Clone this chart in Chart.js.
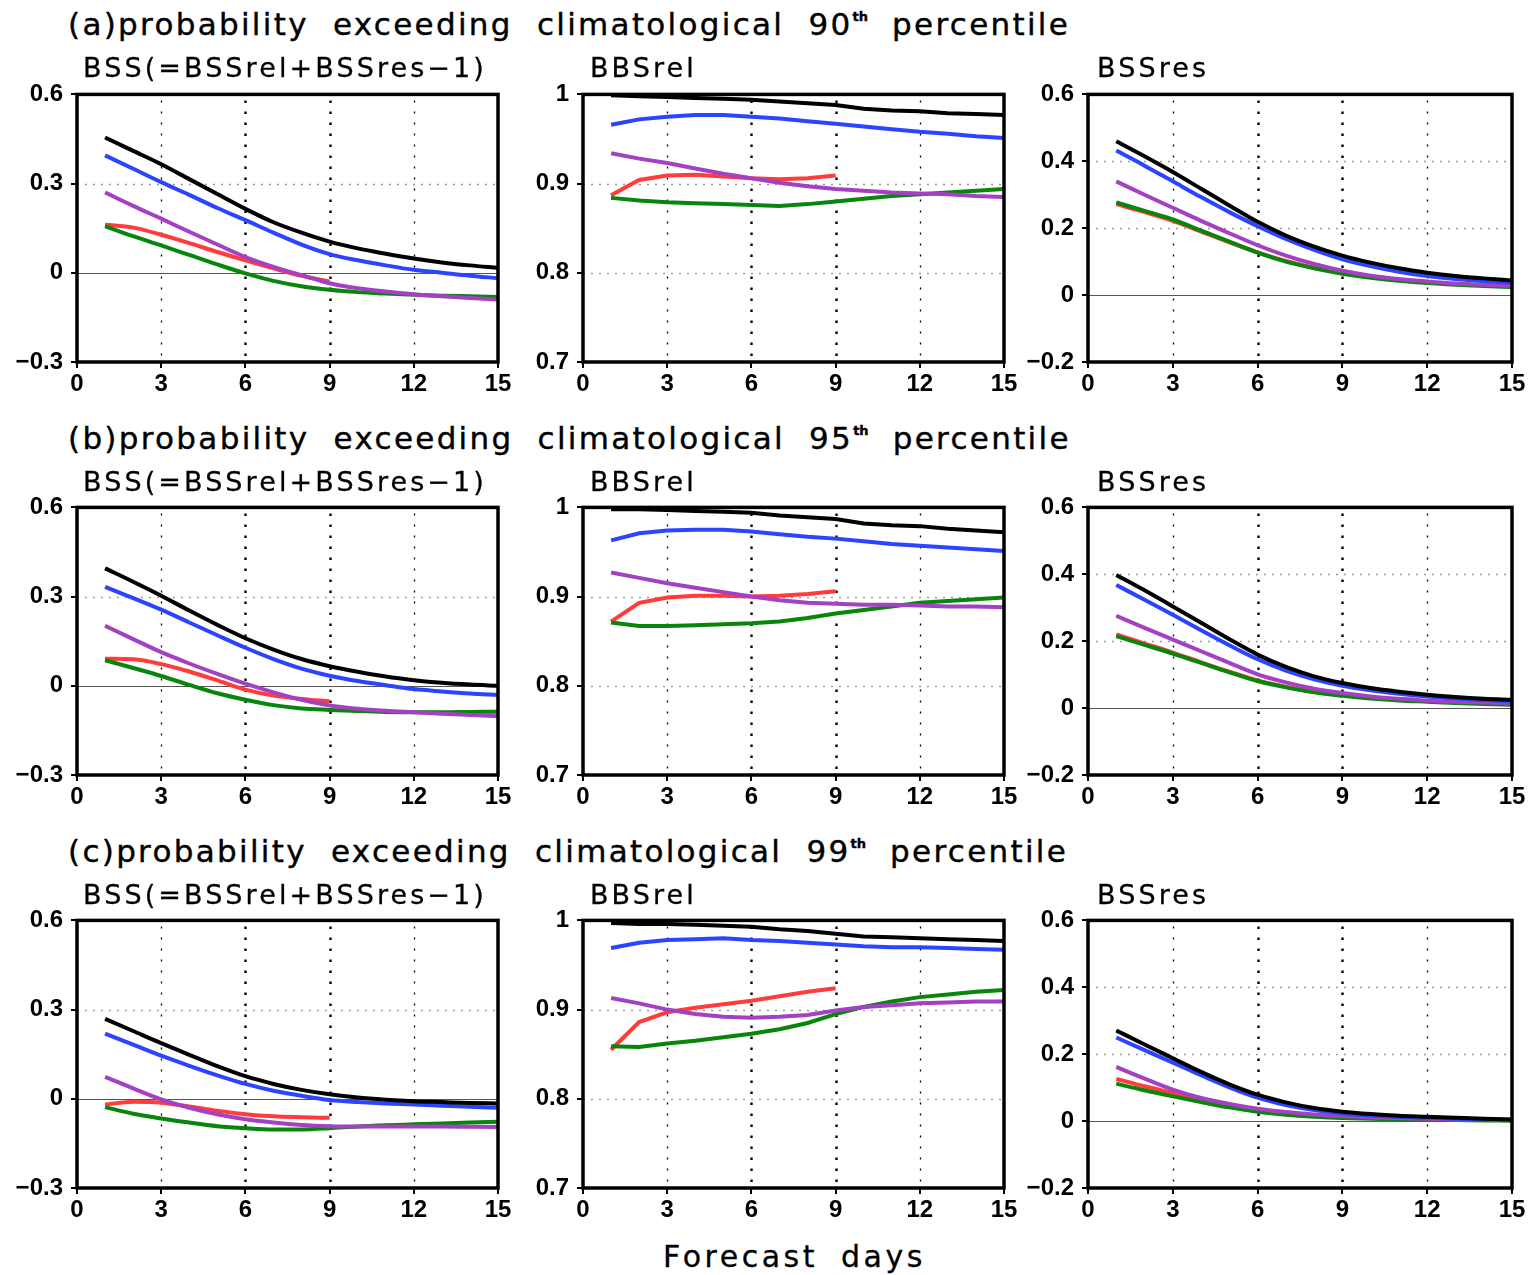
<!DOCTYPE html>
<html>
<head>
<meta charset="utf-8">
<script src="https://cdn.jsdelivr.net/npm/chart.js"></script>
<style>
  body { margin: 0; width: 1530px; height: 1275px; background: #fff; position: relative; overflow: hidden; }
  canvas { position: absolute; }
  .t { position: absolute; font-family: "DejaVu Sans", sans-serif; color: #000; white-space: nowrap; line-height: 1; }
  .title { font-size: 31px; letter-spacing: 2.3px; word-spacing: 12px; -webkit-text-stroke: 0.4px #000; }
  .title sup { font-size: 13px; font-weight: bold; vertical-align: 14px; letter-spacing: 0; }
  .sub { font-size: 27px; letter-spacing: 3.1px; -webkit-text-stroke: 0.3px #000; }
  .xlab { font-size: 30px; letter-spacing: 3.5px; word-spacing: 10px; -webkit-text-stroke: 0.3px #000; }
</style>
</head>
<body>
<script>
// forecast days
const days = [1, 2, 3, 4, 5, 6, 7, 8, 9, 10, 11, 12, 13, 14, 15];
const xTicks = [0, 3, 6, 9, 12, 15];
const yTicksBSS = [-0.3, 0, 0.3, 0.6];
const yTicksRel = [0.7, 0.8, 0.9, 1];
const yTicksRes = [-0.2, 0, 0.2, 0.4, 0.6];

const rowTitles = ['(a)probability exceeding climatological 90', '(b)probability exceeding climatological 95', '(c)probability exceeding climatological 99'];
const colTitles = ['BSS(=BSSrel+BSSres\u22121)', 'BBSrel', 'BSSres'];

// (a) 90th percentile
const bss90Black  = [0.455, 0.41, 0.365, 0.315, 0.265, 0.215, 0.17, 0.135, 0.105, 0.082, 0.064, 0.048, 0.035, 0.025, 0.017];
const bss90Blue   = [0.395, 0.35, 0.305, 0.262, 0.218, 0.177, 0.135, 0.095, 0.063, 0.042, 0.025, 0.01, 0.0, -0.01, -0.018];
const bss90Purple = [0.27, 0.225, 0.182, 0.138, 0.095, 0.053, 0.02, -0.008, -0.035, -0.052, -0.063, -0.072, -0.079, -0.085, -0.09];
const bss90Red    = [0.162, 0.152, 0.128, 0.1, 0.07, 0.042, 0.015, -0.01, -0.03];
const bss90Green  = [0.157, 0.123, 0.092, 0.06, 0.028, -0.002, -0.027, -0.045, -0.057, -0.065, -0.07, -0.074, -0.077, -0.079, -0.081];

const rel90Black  = [0.999, 0.998, 0.997, 0.996, 0.995, 0.994, 0.992, 0.990, 0.988, 0.984, 0.982, 0.981, 0.979, 0.978, 0.977];
const rel90Blue   = [0.966, 0.972, 0.975, 0.977, 0.977, 0.975, 0.973, 0.970, 0.967, 0.964, 0.961, 0.958, 0.956, 0.953, 0.951];
const rel90Purple = [0.934, 0.928, 0.923, 0.917, 0.911, 0.906, 0.901, 0.897, 0.894, 0.892, 0.890, 0.889, 0.888, 0.886, 0.885];
const rel90Red    = [0.887, 0.904, 0.909, 0.910, 0.908, 0.906, 0.905, 0.906, 0.909];
const rel90Green  = [0.884, 0.881, 0.879, 0.878, 0.877, 0.876, 0.875, 0.877, 0.880, 0.883, 0.886, 0.888, 0.890, 0.892, 0.894];

const res90Black  = [0.46, 0.415, 0.368, 0.318, 0.268, 0.219, 0.178, 0.145, 0.118, 0.097, 0.08, 0.067, 0.057, 0.05, 0.044];
const res90Blue   = [0.432, 0.387, 0.34, 0.293, 0.248, 0.206, 0.168, 0.135, 0.107, 0.087, 0.07, 0.057, 0.048, 0.042, 0.037];
const res90Purple = [0.34, 0.30, 0.261, 0.222, 0.185, 0.149, 0.118, 0.093, 0.073, 0.058, 0.048, 0.041, 0.035, 0.031, 0.028];
const res90Red    = [0.272, 0.248, 0.222, 0.19, 0.158, 0.128, 0.102, 0.082, 0.066];
const res90Green  = [0.277, 0.252, 0.226, 0.193, 0.16, 0.127, 0.1, 0.08, 0.064, 0.052, 0.043, 0.036, 0.031, 0.027, 0.024];

// (b) 95th percentile
const bss95Black  = [0.395, 0.35, 0.303, 0.253, 0.205, 0.16, 0.122, 0.09, 0.066, 0.047, 0.031, 0.019, 0.01, 0.004, 0.0];
const bss95Blue   = [0.333, 0.295, 0.256, 0.213, 0.17, 0.128, 0.09, 0.058, 0.034, 0.016, 0.002, -0.011, -0.019, -0.026, -0.031];
const bss95Purple = [0.202, 0.157, 0.113, 0.075, 0.04, 0.007, -0.022, -0.047, -0.066, -0.077, -0.084, -0.089, -0.094, -0.098, -0.102];
const bss95Red    = [0.091, 0.089, 0.073, 0.048, 0.018, -0.013, -0.033, -0.044, -0.052];
const bss95Green  = [0.086, 0.06, 0.033, 0.003, -0.025, -0.047, -0.065, -0.076, -0.081, -0.085, -0.088, -0.089, -0.089, -0.088, -0.087];

const rel95Black  = [0.998, 0.998, 0.997, 0.996, 0.995, 0.994, 0.991, 0.989, 0.987, 0.982, 0.980, 0.979, 0.976, 0.974, 0.972];
const rel95Blue   = [0.963, 0.971, 0.974, 0.975, 0.975, 0.973, 0.970, 0.967, 0.965, 0.962, 0.959, 0.957, 0.955, 0.953, 0.951];
const rel95Purple = [0.927, 0.921, 0.915, 0.91, 0.905, 0.90, 0.896, 0.893, 0.892, 0.891, 0.891, 0.890, 0.889, 0.889, 0.888];
const rel95Red    = [0.872, 0.893, 0.899, 0.901, 0.901, 0.900, 0.901, 0.903, 0.906];
const rel95Green  = [0.871, 0.867, 0.867, 0.868, 0.869, 0.870, 0.872, 0.876, 0.881, 0.885, 0.889, 0.893, 0.895, 0.897, 0.899];

const res95Black  = [0.398, 0.352, 0.304, 0.255, 0.206, 0.16, 0.123, 0.095, 0.075, 0.06, 0.049, 0.04, 0.033, 0.028, 0.025];
const res95Blue   = [0.368, 0.324, 0.279, 0.233, 0.188, 0.146, 0.112, 0.086, 0.067, 0.053, 0.043, 0.035, 0.029, 0.024, 0.02];
const res95Purple = [0.276, 0.24, 0.205, 0.17, 0.135, 0.101, 0.077, 0.058, 0.045, 0.035, 0.028, 0.022, 0.019, 0.017, 0.015];
const res95Red    = [0.22, 0.193, 0.166, 0.137, 0.109, 0.083, 0.064, 0.049, 0.038];
const res95Green  = [0.215, 0.189, 0.163, 0.135, 0.107, 0.081, 0.062, 0.047, 0.037, 0.029, 0.023, 0.019, 0.015, 0.012, 0.01];

// (c) 99th percentile
const bss99Black  = [0.269, 0.228, 0.187, 0.148, 0.11, 0.076, 0.05, 0.03, 0.015, 0.004, -0.003, -0.008, -0.011, -0.014, -0.016];
const bss99Blue   = [0.219, 0.182, 0.145, 0.111, 0.079, 0.05, 0.027, 0.01, -0.004, -0.011, -0.016, -0.019, -0.023, -0.027, -0.03];
const bss99Purple = [0.074, 0.035, -0.002, -0.03, -0.052, -0.069, -0.08, -0.088, -0.092, -0.093, -0.093, -0.093, -0.093, -0.094, -0.095];
const bss99Red    = [-0.019, -0.01, -0.013, -0.026, -0.04, -0.052, -0.059, -0.062, -0.064];
const bss99Green  = [-0.028, -0.05, -0.066, -0.08, -0.092, -0.099, -0.103, -0.103, -0.099, -0.093, -0.089, -0.086, -0.083, -0.08, -0.077];

const rel99Black  = [0.997, 0.996, 0.996, 0.995, 0.994, 0.993, 0.990, 0.988, 0.985, 0.982, 0.981, 0.980, 0.979, 0.978, 0.977];
const rel99Blue   = [0.969, 0.975, 0.978, 0.979, 0.980, 0.978, 0.977, 0.975, 0.973, 0.971, 0.970, 0.970, 0.969, 0.968, 0.967];
const rel99Purple = [0.913, 0.907, 0.900, 0.895, 0.892, 0.891, 0.892, 0.894, 0.899, 0.903, 0.905, 0.907, 0.908, 0.909, 0.909];
const rel99Red    = [0.855, 0.886, 0.897, 0.902, 0.906, 0.910, 0.915, 0.920, 0.924];
const rel99Green  = [0.859, 0.858, 0.862, 0.865, 0.869, 0.873, 0.878, 0.885, 0.895, 0.903, 0.909, 0.914, 0.917, 0.920, 0.922];

const res99Black  = [0.271, 0.229, 0.188, 0.147, 0.11, 0.079, 0.056, 0.039, 0.028, 0.021, 0.016, 0.013, 0.01, 0.007, 0.005];
const res99Blue   = [0.25, 0.212, 0.175, 0.137, 0.101, 0.07, 0.048, 0.033, 0.023, 0.017, 0.013, 0.01, 0.007, 0.005, 0.004];
const res99Purple = [0.162, 0.127, 0.094, 0.069, 0.051, 0.037, 0.027, 0.02, 0.015, 0.011, 0.009, 0.007, 0.005, 0.004, 0.003];
const res99Red    = [0.126, 0.104, 0.084, 0.065, 0.047, 0.033, 0.023, 0.016, 0.011];
const res99Green  = [0.112, 0.092, 0.074, 0.057, 0.041, 0.028, 0.019, 0.013, 0.009, 0.007, 0.005, 0.004, 0.003, 0.002, 0.001];

const COLORS = { black: '#000000', blue: '#2b44ff', purple: '#a440c4', red: '#ff3b3b', green: '#07860b' };

const panels = [
  [[bss90Black, bss90Blue, bss90Purple, bss90Green, bss90Red], [rel90Black, rel90Blue, rel90Purple, rel90Green, rel90Red], [res90Black, res90Blue, res90Purple, res90Green, res90Red]],
  [[bss95Black, bss95Blue, bss95Purple, bss95Green, bss95Red], [rel95Black, rel95Blue, rel95Purple, rel95Green, rel95Red], [res95Black, res95Blue, res95Purple, res95Green, res95Red]],
  [[bss99Black, bss99Blue, bss99Purple, bss99Green, bss99Red], [rel99Black, rel99Blue, rel99Purple, rel99Green, rel99Red], [res99Black, res99Blue, res99Purple, res99Green, res99Red]]
];
const seriesColors = [COLORS.black, COLORS.blue, COLORS.purple, COLORS.green, COLORS.red];
const colTicks = [yTicksBSS, yTicksRel, yTicksRes];
const colDots = [[0.3], [0.8, 0.9], [0.2, 0.4]];
const colZero = [true, false, true];

// layout of plot boxes (pixels)
const PL = [77, 583, 1088], PW = [421, 421, 424];
const PT = [92, 505, 918], PH = 270;
const AX_W = 75, AX_H = 40, PAD_T = 20, PAD_R = 30;

const gradsFrame = {
  id: 'gradsFrame',
  beforeDatasetsDraw(chart, args, opts) {
    const { ctx, chartArea: a, scales: { x, y } } = chart;
    ctx.save();
    ctx.setLineDash([2, 6]);
    ctx.strokeStyle = '#9a9a9a';
    ctx.lineWidth = 1.3;
    opts.dots.forEach(v => {
      const py = Math.round(y.getPixelForValue(v)) + 0.5;
      ctx.beginPath(); ctx.moveTo(a.left, py); ctx.lineTo(a.right, py); ctx.stroke();
    });
    if (opts.zero) {
      ctx.setLineDash([]);
      ctx.strokeStyle = '#555';
      ctx.lineWidth = 1;
      const py = Math.round(y.getPixelForValue(0)) + 0.5;
      ctx.beginPath(); ctx.moveTo(a.left, py); ctx.lineTo(a.right, py); ctx.stroke();
    }
    ctx.strokeStyle = '#000';
    [3, 6, 9, 12].forEach(v => {
      const heavy = v === 6 || v === 9;
      ctx.setLineDash(heavy ? [2.5, 8.5] : [2, 9]);
      ctx.lineWidth = heavy ? 2.4 : 1.3;
      const px = Math.round(x.getPixelForValue(v)) + 0.5;
      ctx.beginPath(); ctx.moveTo(px, a.top + 6); ctx.lineTo(px, a.bottom); ctx.stroke();
    });
    ctx.restore();
  },
  afterDatasetsDraw(chart) {
    const { ctx, chartArea: a } = chart;
    ctx.save();
    ctx.strokeStyle = '#000';
    ctx.lineWidth = 3.5;
    ctx.strokeRect(a.left, a.top, a.right - a.left, a.bottom - a.top);
    ctx.restore();
  }
};

function fmt(v) {
  const s = String(Math.round(v * 10) / 10);
  return s.replace('-', '\u2212');
}

const tickFont = { family: 'Liberation Sans', size: 24, weight: 'bold' };

for (let r = 0; r < 3; r++) {
  for (let c = 0; c < 3; c++) {
    const cv = document.createElement('canvas');
    const w = PW[c] + AX_W + PAD_R, h = PH + PAD_T + AX_H;
    cv.width = w; cv.height = h;
    cv.style.left = (PL[c] - AX_W) + 'px';
    cv.style.top = (PT[r] - PAD_T) + 'px';
    document.body.appendChild(cv);
    const yt = colTicks[c];
    const datasets = panels[r][c].map((arr, i) => ({
      data: arr.map((v, k) => ({ x: days[k], y: v })),
      borderColor: seriesColors[i],
      borderWidth: 4,
      pointRadius: 0,
      fill: false,
      cubicInterpolationMode: c === 1 ? 'default' : 'monotone',
      tension: c === 1 ? 0 : 0.4,
      borderCapStyle: 'butt'
    }));
    new Chart(cv, {
      type: 'line',
      data: { datasets },
      plugins: [gradsFrame],
      options: {
        responsive: false,
        animation: false,
        events: [],
        layout: { padding: { top: PAD_T, right: PAD_R, left: 0, bottom: 0 } },
        plugins: {
          legend: { display: false },
          tooltip: { enabled: false },
          gradsFrame: { dots: colDots[c], zero: colZero[c] }
        },
        scales: {
          x: {
            type: 'linear', min: 0, max: 15,
            afterBuildTicks: s => { s.ticks = xTicks.map(v => ({ value: v })); },
            afterFit: s => { s.height = AX_H; },
            grid: { drawOnChartArea: false, drawTicks: true, tickLength: 6, color: '#000', lineWidth: 2 },
            border: { display: false },
            ticks: { color: '#000', padding: 2, maxRotation: 0, font: tickFont, callback: v => fmt(v) }
          },
          y: {
            type: 'linear', min: yt[0], max: yt[yt.length - 1],
            afterBuildTicks: s => { s.ticks = yt.map(v => ({ value: v })); },
            afterFit: s => { s.width = AX_W; },
            grid: { drawOnChartArea: false, drawTicks: true, tickLength: 6, color: '#000', lineWidth: 2 },
            border: { display: false },
            ticks: { color: '#000', padding: 8, font: tickFont, callback: v => fmt(v) }
          }
        }
      }
    });
  }
}

// text: row titles, panel titles, axis label
const ROW_TITLE_Y = [9, 423, 836];
const SUB_Y = [54, 468, 881];
const SUB_X = [83, 590, 1097];
for (let r = 0; r < 3; r++) {
  const t = document.createElement('div');
  t.className = 't title';
  t.style.left = '68px';
  t.style.top = ROW_TITLE_Y[r] + 'px';
  t.innerHTML = rowTitles[r] + '<sup>th</sup> percentile';
  document.body.appendChild(t);
  for (let c = 0; c < 3; c++) {
    const s = document.createElement('div');
    s.className = 't sub';
    s.style.left = SUB_X[c] + 'px';
    s.style.top = SUB_Y[r] + 'px';
    s.textContent = colTitles[c];
    document.body.appendChild(s);
  }
}
const xl = document.createElement('div');
xl.className = 't xlab';
xl.style.left = '663px';
xl.style.top = '1242px';
xl.textContent = 'Forecast days';
document.body.appendChild(xl);
</script>
</body>
</html>
